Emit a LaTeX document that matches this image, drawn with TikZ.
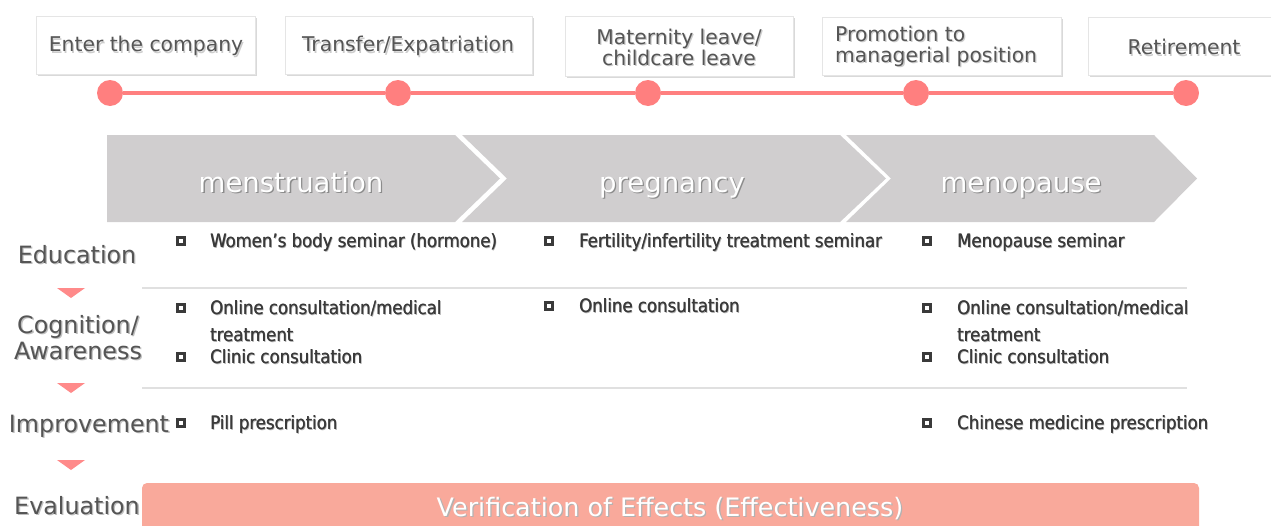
\documentclass[tikz,border=0pt]{standalone}
\usepackage{fontspec}
\setmainfont{DejaVu Sans}
\newfontfamily\itemfont{DejaVu Sans Condensed}
\usetikzlibrary{shadows}

\definecolor{tlpink}{HTML}{FF7F7F}
\definecolor{chev}{HTML}{D0CECF}
\definecolor{evalbar}{HTML}{F9A99B}
\definecolor{txtgray}{HTML}{555555}
\definecolor{rulegray}{HTML}{E0E0E0}
\definecolor{itemtxt}{HTML}{3A3A3A}
\definecolor{arrowpink}{HTML}{FF8A8A}

% text with a soft offset copy underneath
\newcommand\shtext[2]{\makebox[0pt][l]{\hspace{1.3pt}\raisebox{-1.3pt}{\textcolor{#1}{#2}}}#2}
\newcommand\shitem[1]{\makebox[0pt][l]{\hspace{1pt}\raisebox{-1pt}{\textcolor{black!30}{#1}}}\makebox[0pt][l]{\hspace{0.35pt}#1}#1}

\tikzset{
  stagebox/.style={draw=black!10, fill=white, minimum height=58pt, inner sep=0pt,
    drop shadow={opacity=0.3, shadow xshift=2pt, shadow yshift=-2pt}},
  stagetext/.style={font=\fontsize{20.3}{21}\selectfont, text=txtgray, align=center, inner sep=0pt},
  dot/.style={circle, fill=tlpink, minimum size=26pt, inner sep=0pt},
  phase/.style={font=\fontsize{27.5}{30}\selectfont, text=white, anchor=base, inner sep=0pt},
  rowlabel/.style={font=\fontsize{23.8}{26}\selectfont, text=txtgray, align=center, inner sep=0pt},
  sqbullet/.style={draw=itemtxt, line width=2.4pt, fill=white, minimum size=7pt, inner sep=0pt},
  item/.style={font=\itemfont\fontsize{18.4}{20}\selectfont, text=itemtxt, anchor=base west, inner sep=0pt},
  sep/.style={rulegray, line width=2pt},
  down/.style={fill=arrowpink},
}

\begin{document}
\begin{tikzpicture}[x=1pt, y=-1pt]
\clip (0,0) rectangle (1271,525);
\useasboundingbox (0,0) rectangle (1271,525);

% life events
\node[stagebox, minimum width=219pt] (e1) at (145.5,45) {};
\node[stagebox, minimum width=247pt] (e2) at (408.5,45) {};
\node[stagebox, minimum width=228pt, minimum height=60pt] (e3) at (679,46) {};
\node[stagebox, minimum width=239pt] (e4) at (941.5,46) {};
\node[stagebox, minimum width=190pt] (e5) at (1183,46) {};
\node[stagetext] (e1t) at (146,47) {\shtext{black!20}{Enter the company}};
\node[stagetext] (e2t) at (408,47) {\shtext{black!20}{Transfer/Expatriation}};
\node[stagetext] (e3t) at (679,48) {\shtext{black!20}{Maternity leave/}\\\shtext{black!20}{childcare leave}};
\node[stagetext, align=left, anchor=west] (e4t) at (835,47) {\shtext{black!20}{Promotion to}\\\shtext{black!20}{managerial position}};
\node[stagetext] (e5t) at (1184,48) {\shtext{black!20}{Retirement}};

% timeline
\node[dot] (c1) at (110,93) {};
\node[dot] (c2) at (398,93) {};
\node[dot] (c3) at (648,93) {};
\node[dot] (c4) at (916,93) {};
\node[dot] (c5) at (1186,93) {};
\draw[tlpink, line width=4pt] (c1) -- (c2) -- (c3) -- (c4) -- (c5);

% life phases
\fill[chev] (107,135) -- (455,135) -- (500,178.5) -- (455,222) -- (107,222) -- cycle;
\fill[chev] (462,135) -- (840,135) -- (886,178.5) -- (840,222) -- (462,222) -- (507,178.5) -- cycle;
\fill[chev] (846,135) -- (1154,135) -- (1197,178.5) -- (1154,222) -- (846,222) -- (891,178.5) -- cycle;
\node[phase] (p1) at (291,192) {\shtext{black!45}{menstruation}};
\node[phase] (p2) at (672,192) {\shtext{black!45}{pregnancy}};
\node[phase] (p3) at (1021,192) {\shtext{black!45}{menopause}};

% row labels
\node[rowlabel] (l1) at (77,255) {\shtext{black!25}{Education}};
\node[rowlabel] (l2) at (78,338) {\shtext{black!25}{Cognition/}\\\shtext{black!25}{Awareness}};
\node[rowlabel] (l3) at (89,427) {\shtext{black!25}{Improvement}};
\node[rowlabel] (l4) at (77,506) {\shtext{black!25}{Evaluation}};

% step markers
\fill[down] (57,288) -- (85,288) -- (71,298) -- cycle;
\fill[down] (57,383) -- (85,383) -- (71,393) -- cycle;
\fill[down] (57,460) -- (85,460) -- (71,470) -- cycle;

% row separators
\coordinate (s1a) at (142,288); \coordinate (s1b) at (1187,288);
\coordinate (s2a) at (142,388); \coordinate (s2b) at (1187,388);
\draw[sep] (s1a) -- (s1b);
\draw[sep] (s2a) -- (s2b);

% Education
\node[sqbullet] (b11) at (181,241) {};
\node[item] (t11) at (210,247) {\shitem{Women’s body seminar (hormone)}};
\node[sqbullet] (b12) at (549,241) {};
\node[item] (t12) at (579,247) {\shitem{Fertility/infertility treatment seminar}};
\node[sqbullet] (b13) at (927,241) {};
\node[item] (t13) at (957,247) {\shitem{Menopause seminar}};

% Cognition / Awareness
\node[sqbullet] (b21) at (181,308) {};
\node[item] (t21) at (210,314) {\shitem{Online consultation/medical}};
\node[item] (t21b) at (210,341) {\shitem{treatment}};
\node[sqbullet] (b22) at (181,357) {};
\node[item] (t22) at (210,363) {\shitem{Clinic consultation}};
\node[sqbullet] (b23) at (549,306) {};
\node[item] (t23) at (579,312) {\shitem{Online consultation}};
\node[sqbullet] (b24) at (927,308) {};
\node[item] (t24) at (957,314) {\shitem{Online consultation/medical}};
\node[item] (t24b) at (957,341) {\shitem{treatment}};
\node[sqbullet] (b25) at (927,357) {};
\node[item] (t25) at (957,363) {\shitem{Clinic consultation}};

% Improvement
\node[sqbullet] (b31) at (181,423) {};
\node[item] (t31) at (210,429) {\shitem{Pill prescription}};
\node[sqbullet] (b32) at (927,423) {};
\node[item] (t32) at (957,429) {\shitem{Chinese medicine prescription}};

% Evaluation
\fill[evalbar, rounded corners=5pt] (142,483) rectangle (1199,540);
\node[font=\fontsize{25.4}{27}\selectfont, text=white] (v) at (670,509)
  {\shtext{black!30}{Verification of Effects (Effectiveness)}};
\end{tikzpicture}
\end{document}
